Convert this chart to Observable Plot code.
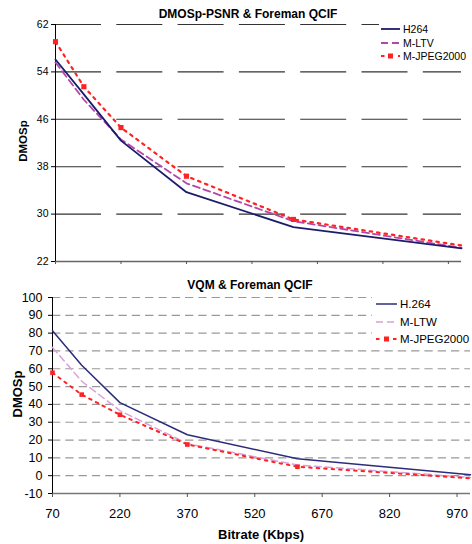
<!DOCTYPE html>
<html>
<head>
<meta charset="utf-8">
<script src="https://cdn.jsdelivr.net/npm/d3@7"></script>
<script src="https://cdn.jsdelivr.net/npm/@observablehq/plot@0.6"></script>
<style>
  html, body { margin: 0; padding: 0; background: #fff; }
  #wrap { position: relative; width: 472px; height: 544px; font-family: "Liberation Sans", Arial, sans-serif; color: #000; overflow: hidden; }
  #wrap svg { position: absolute; left: 0; font-family: "Liberation Sans", Arial, sans-serif; }
  .title { position: absolute; font-weight: bold; font-size: 12px; line-height: 14px; white-space: nowrap; transform: translateX(-50%); }
  .ytitle { position: absolute; font-weight: bold; white-space: nowrap; transform: translate(-50%, -50%) rotate(-90deg); }
  .legend { position: absolute; background: #fff; }
  .legend .row { position: absolute; left: 0; display: flex; align-items: center; white-space: nowrap; }
  .legend svg { position: static !important; }
</style>
</head>
<body>
<div id="wrap"></div>
<script>
// ---- data ----
const bitrates = [70, 135, 220, 370, 615, 1000];
const xTicks = [70, 220, 370, 520, 670, 820, 970];

// Top panel: DMOSp-PSNR & Foreman QCIF
const topYTicks = [22, 30, 38, 46, 54, 62];
const topH264 = [56.1, 50.2, 42.4, 33.7, 27.8, 24.2];
const topMLTV = [55.6, 49.3, 42.6, 35.2, 28.8, 24.3];
const topMJPEG = [59.1, 51.5, 44.6, 36.4, 29.1, 24.7];

// Bottom panel: VQM & Foreman QCIF
const botYTicks = [-10, 0, 10, 20, 30, 40, 50, 60, 70, 80, 90, 100];
const botH264 = [81.4, 62, 41, 23, 9.5, 0.5];
const botMLTW = [72, 53, 36.5, 18, 6, -1];
const botMJPEG = [57.8, 45.5, 34.2, 17.5, 5, -1.5];

const series = (ys) => bitrates.map((b, i) => ({x: b, y: ys[i]}));

const wrap = document.getElementById("wrap");

// ---- top chart ----
const topChart = Plot.plot({
  width: 472, height: 272,
  marginTop: 24, marginBottom: 11, marginLeft: 55, marginRight: 11,
  x: {domain: [70, 1000]},
  y: {domain: [22, 62]},
  style: {fontFamily: "Liberation Sans, Arial, sans-serif", background: "transparent"},
  marks: [
    Plot.ruleY(topYTicks.filter(d => d > 22), {stroke: "#333", strokeWidth: 1.1, strokeDasharray: "46,15.3"}),
    Plot.ruleY([22], {stroke: "#666", strokeWidth: 1.6}),
    Plot.axisX({ticks: xTicks, tickFormat: () => "", tickSize: 3, stroke: "#555", label: null}),
    Plot.axisY({ticks: topYTicks, tickSize: 4, tickPadding: 3, fontSize: 10.5, label: null, tickFormat: d => String(d)}),
    Plot.ruleX([70], {stroke: "#000", strokeWidth: 1}),
    Plot.line(series(topMLTV), {x: "x", y: "y", stroke: "#b446aa", strokeWidth: 1.8, strokeDasharray: "7,4"}),
    Plot.line(series(topH264), {x: "x", y: "y", stroke: "#1c1c6c", strokeWidth: 1.8}),
    Plot.line(series(topMJPEG), {x: "x", y: "y", stroke: "#ff2222", strokeWidth: 2.2, strokeDasharray: "2.5,5"}),
    Plot.dot(series(topMJPEG).filter(d => d.x < 1000), {x: "x", y: "y", symbol: "square", r: 2.9, fill: "#ff2222", stroke: "none"})
  ]
});
topChart.style.top = "0px";
wrap.appendChild(topChart);

// ---- bottom chart ----
const botChart = Plot.plot({
  width: 472, height: 272,
  marginTop: 25, marginBottom: 51, marginLeft: 52, marginRight: 2,
  x: {domain: [70, 1000]},
  y: {domain: [-10, 100]},
  style: {fontFamily: "Liberation Sans, Arial, sans-serif", background: "transparent"},
  marks: [
    Plot.ruleY(botYTicks.filter(d => d > -10), {stroke: "#999", strokeWidth: 1.2, strokeDasharray: "8.3,5"}),
    Plot.ruleY([-10], {stroke: "#777", strokeWidth: 1.6}),
    Plot.axisX({ticks: xTicks, tickSize: 4, tickPadding: 11, fontSize: 13, stroke: "#555", label: null, tickFormat: d => String(d)}),
    Plot.axisY({ticks: botYTicks, tickSize: 4, tickPadding: 6, fontSize: 12.5, label: null, tickFormat: d => String(d)}),
    Plot.ruleX([70], {stroke: "#000", strokeWidth: 1}),
    Plot.line(series(botMLTW), {x: "x", y: "y", stroke: "#d9a0d9", strokeWidth: 1.5, strokeDasharray: "7,4"}),
    Plot.line(series(botH264), {x: "x", y: "y", stroke: "#2c2c7c", strokeWidth: 1.5}),
    Plot.line(series(botMJPEG), {x: "x", y: "y", stroke: "#ff2222", strokeWidth: 2, strokeDasharray: "2.5,5"}),
    Plot.dot(series(botMJPEG).filter(d => d.x < 1000), {x: "x", y: "y", symbol: "square", r: 2.6, fill: "#ff2222", stroke: "none"})
  ]
});
botChart.style.top = "272px";
wrap.appendChild(botChart);

// ---- titles ----
function addDiv(cls, text, css) {
  const d = document.createElement("div");
  d.className = cls;
  d.textContent = text;
  Object.assign(d.style, css);
  wrap.appendChild(d);
  return d;
}
addDiv("title", "DMOSp-PSNR & Foreman QCIF", {left: "248px", top: "7px", fontSize: "12px"});
addDiv("title", "VQM & Foreman QCIF", {left: "250px", top: "278px", fontSize: "12px"});
addDiv("ytitle", "DMOSp", {left: "23px", top: "141px", fontSize: "11.5px"});
addDiv("ytitle", "DMOSp", {left: "17px", top: "394px", fontSize: "13px"});
addDiv("title", "Bitrate (Kbps)", {left: "261px", top: "527px", fontSize: "13px", lineHeight: "16px"});

// ---- legends ----
function swatch(kind, color, w, sw) {
  const ns = "http://www.w3.org/2000/svg";
  const s = document.createElementNS(ns, "svg");
  s.setAttribute("width", w); s.setAttribute("height", 8);
  const l = document.createElementNS(ns, "line");
  l.setAttribute("x1", 0); l.setAttribute("x2", w); l.setAttribute("y1", 4); l.setAttribute("y2", 4);
  l.setAttribute("stroke", color); l.setAttribute("stroke-width", sw);
  if (kind === "dash") l.setAttribute("stroke-dasharray", "7,4");
  if (kind === "dot") l.setAttribute("stroke-dasharray", "3.5,5");
  s.appendChild(l);
  if (kind === "dot") {
    const r = document.createElementNS(ns, "rect");
    r.setAttribute("x", w / 2 - 2.5); r.setAttribute("y", 1.5); r.setAttribute("width", 5); r.setAttribute("height", 5);
    r.setAttribute("fill", color);
    s.appendChild(r);
  }
  return s;
}
function legend(items, box, rowYs, fontSize, swW, gap) {
  const lg = document.createElement("div");
  lg.className = "legend";
  Object.assign(lg.style, {left: box.left + "px", top: box.top + "px", width: box.width + "px", height: box.height + "px"});
  items.forEach((it, i) => {
    const row = document.createElement("div");
    row.className = "row";
    row.style.left = box.pad + "px";
    row.style.top = (rowYs[i] - box.top - 7) + "px";
    row.style.height = "14px";
    row.style.fontSize = fontSize + "px";
    row.appendChild(swatch(it.kind, it.color, swW, it.sw));
    const t = document.createElement("span");
    t.textContent = it.label;
    t.style.marginLeft = gap + "px";
    row.appendChild(t);
    lg.appendChild(row);
  });
  wrap.appendChild(lg);
}
const topLegendLabels = ["H264", "M-LTV", "M-JPEG2000"];
const botLegendLabels = ["H.264", "M-LTW", "M-JPEG2000"];
legend([
  {label: topLegendLabels[0], kind: "solid", color: "#1c1c6c", sw: 1.8},
  {label: topLegendLabels[1], kind: "dash", color: "#b446aa", sw: 1.8},
  {label: topLegendLabels[2], kind: "dot", color: "#ff2222", sw: 2.2}
], {left: 379, top: 20, width: 93, height: 44, pad: 2}, [29, 43, 56], 10.5, 19, 3);
legend([
  {label: botLegendLabels[0], kind: "solid", color: "#2c2c7c", sw: 1.5},
  {label: botLegendLabels[1], kind: "dash", color: "#d9a0d9", sw: 1.5},
  {label: botLegendLabels[2], kind: "dot", color: "#ff2222", sw: 2}
], {left: 372, top: 293, width: 100, height: 52, pad: 4}, [304, 322, 339], 11.5, 21, 3);
</script>
</body>
</html>
